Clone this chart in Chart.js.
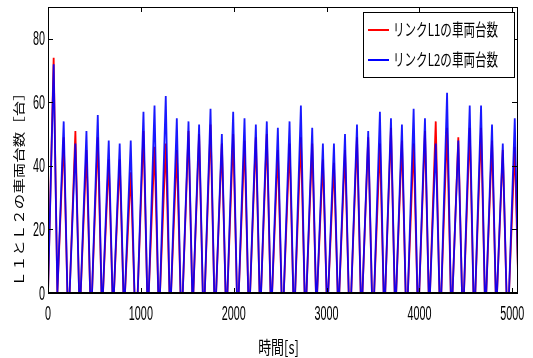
<!DOCTYPE html>
<html>
<head>
<meta charset="utf-8">
<script src="https://cdn.jsdelivr.net/npm/chart.js@4.4.1/dist/chart.umd.min.js"></script>
<style>
  html, body { margin: 0; padding: 0; background: #fff; }
  canvas { display: block; }
</style>
</head>
<body>
<canvas id="queueChart" width="533" height="358"></canvas>
<script>
// peak times [s] of each signal cycle
const peakTimes = [61, 169, 295, 414, 536, 654, 772, 891, 1028, 1147, 1268, 1387, 1513, 1627,
  1750, 1872, 1994, 2116, 2238, 2356, 2475, 2601, 2723, 2845, 2960, 3079, 3198, 3327,
  3448, 3574, 3693, 3811, 3937, 4059, 4175, 4297, 4418, 4541, 4663, 4781, 4897, 5026];
// peak vehicle counts per cycle
const l1Peaks = [74, 49, 51, 45, 49, 42, 42, 38, 51, 46, 47, 45, 51, 50,
  53, 47, 50, 48, 49, 50, 45, 47, 49, 47, 42, 41, 45, 49,
  49, 47, 52, 48, 47, 51, 54, 52, 49, 52, 52, 48, 45, 46];
const l2Peaks = [72, 54, 47, 51, 56, 48, 47, 48, 57, 59, 62, 55, 54, 53,
  58, 50, 57, 55, 53, 54, 52, 54, 59, 52, 47, 47, 50, 53,
  51, 57, 55, 53, 58, 55, 47, 63, 48, 59, 59, 53, 47, 55];
// queue build-up and discharge durations [s]
const riseTime = 62;
const fallTime = 40;

const xTicks = [0, 1000, 2000, 3000, 4000, 5000];
const yTicks = [0, 20, 40, 60, 80];
const seriesNames = ["リンクL1の車両台数", "リンクL2の車両台数"];

function buildSeries(peaks) {
  const pts = [{ x: 0, y: 0 }];
  peakTimes.forEach((t, i) => {
    const s = t - riseTime;
    if (s > pts[pts.length - 1].x) pts.push({ x: s, y: 0 });
    pts.push({ x: t, y: peaks[i] });
    pts.push({ x: t + fallTime, y: 0 });
  });
  return pts;
}

function squeezedText(ctx, str, x, y, font, sx, align, baseline) {
  ctx.save();
  ctx.translate(x, y);
  ctx.scale(sx, 1);
  ctx.font = font;
  ctx.textAlign = align;
  ctx.textBaseline = baseline;
  ctx.fillStyle = "#000";
  ctx.fillText(str, 0, 0);
  ctx.restore();
}

// matlab style box, inward ticks, labels and legend
const matlabFrame = {
  id: "matlabFrame",
  afterDatasetsDraw(chart) {
    const { ctx, chartArea: a, scales: { x, y } } = chart;
    ctx.save();
    ctx.strokeStyle = "#000";
    ctx.lineWidth = 1;
    ctx.beginPath();
    xTicks.forEach(v => {
      const px = Math.round(x.getPixelForValue(v)) + 0.5;
      ctx.moveTo(px, a.bottom); ctx.lineTo(px, a.bottom - 5);
      ctx.moveTo(px, a.top); ctx.lineTo(px, a.top + 5);
    });
    yTicks.forEach(v => {
      const py = Math.round(y.getPixelForValue(v)) + 0.5;
      ctx.moveTo(a.left, py); ctx.lineTo(a.left + 5, py);
      ctx.moveTo(a.right, py); ctx.lineTo(a.right - 5, py);
    });
    ctx.stroke();
    ctx.strokeRect(a.left + 0.5, a.top + 0.5, a.right - a.left, a.bottom - a.top);
    ctx.lineWidth = 2;
    ctx.beginPath();
    ctx.moveTo(a.left, a.bottom); ctx.lineTo(a.right, a.bottom);
    ctx.stroke();

    const numFont = "20px 'Liberation Sans'";
    xTicks.forEach(v => {
      squeezedText(ctx, String(v), x.getPixelForValue(v), a.bottom + 21, numFont, 0.54, "center", "middle");
    });
    yTicks.forEach(v => {
      squeezedText(ctx, String(v), a.left - 3, y.getPixelForValue(v) + 1, numFont, 0.54, "right", "middle");
    });

    squeezedText(ctx, "時間[s]", (a.left + a.right) / 2 - 4, 347, "18px 'Noto Sans CJK JP'", 0.72, "center", "middle");

    ctx.save();
    ctx.translate(19, 186);
    ctx.rotate(-Math.PI / 2);
    ctx.scale(1, 0.8);
    ctx.font = "15.5px 'Noto Sans CJK JP'";
    ctx.textAlign = "center";
    ctx.textBaseline = "middle";
    ctx.fillStyle = "#000";
    ctx.fillText("Ｌ１とＬ２の車両台数［台］", 0, 0);
    ctx.restore();

    // legend
    const lx = 363, ly = 12, lw = 151, lh = 65;
    ctx.fillStyle = "#fff";
    ctx.fillRect(lx, ly, lw, lh);
    ctx.lineWidth = 1;
    ctx.strokeStyle = "#000";
    ctx.strokeRect(lx + 0.5, ly + 0.5, lw, lh);
    const colors = ["#ff0000", "#0000ff"];
    [30, 60].forEach((ry, i) => {
      ctx.strokeStyle = colors[i];
      ctx.lineWidth = 2;
      ctx.beginPath();
      ctx.moveTo(368, ry); ctx.lineTo(389, ry);
      ctx.stroke();
      squeezedText(ctx, seriesNames[i], 393, ry, "17px 'Noto Sans CJK JP'", 0.68, "left", "middle");
    });
    ctx.restore();
  }
};

const config = {
  type: "line",
  data: {
    datasets: [
      {
        label: seriesNames[0],
        data: buildSeries(l1Peaks),
        borderColor: "#ff0000",
        borderWidth: 1.8,
        order: 1
      },
      {
        label: seriesNames[1],
        data: buildSeries(l2Peaks),
        borderColor: "rgba(0, 0, 255, 0.9)",
        borderWidth: 1.8,
        order: 0
      }
    ]
  },
  options: {
    responsive: false,
    animation: false,
    layout: { padding: { left: 48, top: 7, right: 16, bottom: 65 } },
    elements: { point: { radius: 0 }, line: { tension: 0 } },
    scales: {
      x: { type: "linear", min: 0, max: 5050, display: false },
      y: { min: 0, max: 90, display: false }
    },
    plugins: {
      legend: { display: false },
      tooltip: { enabled: false }
    }
  },
  plugins: [matlabFrame]
};

const ctx = document.getElementById("queueChart");
let queueChart = new Chart(ctx, config);
</script>
</body>
</html>
